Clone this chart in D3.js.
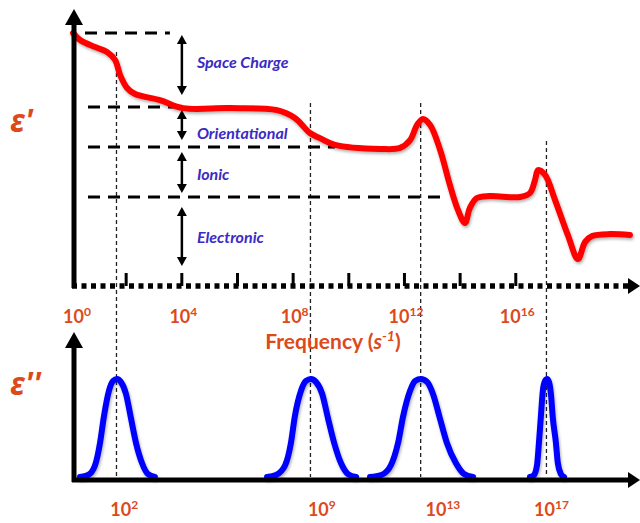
<!DOCTYPE html>
<html>
<head>
<meta charset="utf-8">
<script src="https://cdn.jsdelivr.net/npm/d3@7"></script>
<style>
  body { margin: 0; background: #fff; }
  svg { display: block; }
  .lbl { font-family: Lato, "Open Sans", sans-serif; font-weight: bold; }
</style>
</head>
<body>
<div id="chart"></div>
<script>
// log10 of frequency (x) and epsilon' (relative units)
var realLogF = [0.11, 0.36, 0.90, 1.33, 1.62, 1.80, 2.05, 2.34, 3.23, 4.06, 5.75, 7.44, 8.08, 8.62, 8.98, 9.52,
  11.14, 11.86, 12.22, 12.47, 12.68, 12.94, 13.30, 13.65, 13.94, 14.19, 14.37, 14.62, 15.09, 16.17, 16.53,
  16.71, 16.82, 17.07, 17.43, 17.89, 18.25, 18.51, 18.76, 19.40, 20.12];
var realEps = [10.0, 9.72, 9.44, 9.25, 8.93, 8.33, 7.82, 7.58, 7.34, 7.02, 7.02, 6.94, 6.63, 6.03, 5.83, 5.56,
  5.40, 5.44, 5.75, 6.35, 6.59, 6.35, 5.36, 3.97, 2.98, 2.46, 3.06, 3.45, 3.53, 3.49, 3.65,
  4.17, 4.56, 4.37, 3.37, 1.98, 1.03, 1.71, 1.94, 2.02, 1.98];

// epsilon'' loss peaks
var lossPeak1F = [0.36, 0.65, 0.90, 1.08, 1.22, 1.40, 1.55, 1.69, 1.83, 2.01, 2.19, 2.37, 2.59, 2.80, 3.05];
var lossPeak2F = [7.08, 7.40, 7.73, 7.94, 8.08, 8.30, 8.48, 8.66, 8.84, 9.06, 9.27, 9.49, 9.74, 9.99, 10.28];
var lossPeak3F = [10.78, 11.18, 11.53, 11.79, 11.97, 12.22, 12.40, 12.61, 12.83, 13.04, 13.29, 13.54, 13.87, 14.16, 14.48];
var lossPeak4F = [16.53, 16.67, 16.78, 16.85, 16.92, 16.99, 17.07, 17.14, 17.21, 17.28, 17.35, 17.46, 17.53, 17.64, 17.75];
var lossVal = [0, 0.02, 0.12, 0.35, 0.62, 0.88, 0.98, 1, 0.97, 0.85, 0.6, 0.35, 0.14, 0.03, 0];

// mechanism levels
var mechNames = ["Space Charge", "Orientational", "Ionic", "Electronic"];
var levelEps = [10.0, 7.06, 5.48, 3.49];
var levelEndF = [3.59, 4.06, 9.52, 13.58];
var arrowTop = [9.92, 6.94, 5.28, 3.10];
var arrowBottom = [7.54, 5.75, 3.65, 0.75];
var nameEps = [8.85, 6.03, 4.40, 1.87];
var arrowF = 4.02;

// relaxation frequencies
var peakF = [1.67, 8.64, 12.6, 17.12];
var peakLineTop = [9.25, 7.22, 7.22, 5.71];
var peakExp = ["2", "9", "13", "17"];
var peakLabelF = [1.95, 9.05, 13.4, 17.3];

var tickF = [2, 4, 6, 8, 10, 12, 14, 16];
var labelExp = [0, 4, 8, 12, 16];

var width = 640, height = 523;
var orange = "#dc4a1c", purple = "#3b2bc4";

var x = d3.scaleLinear().domain([0, 20]).range([70, 626.6]);
var yTop = d3.scaleLinear().domain([0, 10]).range([285, 33]);
var yBot = d3.scaleLinear().domain([0, 1]).range([477, 379]);

var svg = d3.select("#chart").append("svg")
  .attr("width", width)
  .attr("height", height);

var defs = svg.append("defs");
defs.append("filter").attr("id", "shadow")
  .attr("x", "-10%").attr("y", "-10%").attr("width", "120%").attr("height", "130%")
  .append("feDropShadow")
  .attr("dx", 1).attr("dy", 2).attr("stdDeviation", 1.5)
  .attr("flood-color", "#000").attr("flood-opacity", 0.3);

// vertical dotted lines at relaxation frequencies
svg.selectAll(".vline").data(peakF).enter().append("line")
  .attr("x1", d => x(d)).attr("x2", d => x(d))
  .attr("y1", (d, i) => yTop(peakLineTop[i])).attr("y2", yBot(0))
  .attr("stroke", "#222").attr("stroke-width", 1.3)
  .attr("stroke-dasharray", "4,3");

// dashed level lines
svg.selectAll(".level").data(levelEps).enter().append("line")
  .attr("x1", (d, i) => i == 0 ? 85 : 88).attr("x2", (d, i) => x(levelEndF[i]))
  .attr("y1", d => yTop(d)).attr("y2", d => yTop(d))
  .attr("stroke", "#000").attr("stroke-width", 3)
  .attr("stroke-dasharray", "12,8");

// double arrows
function dblArrow(g, xx, y1, y2) {
  g.append("line").attr("x1", xx).attr("x2", xx).attr("y1", y1 + 6).attr("y2", y2 - 6)
    .attr("stroke", "#000").attr("stroke-width", 2.5);
  g.append("path").attr("d", "M" + xx + "," + y1 + "l-5,9h10z").attr("fill", "#000");
  g.append("path").attr("d", "M" + xx + "," + y2 + "l-5,-9h10z").attr("fill", "#000");
}
var arrowsG = svg.append("g");
arrowTop.forEach(function (d, i) {
  dblArrow(arrowsG, x(arrowF), yTop(d), yTop(arrowBottom[i]));
});

svg.selectAll(".mech").data(mechNames).enter().append("text")
  .attr("class", "lbl")
  .attr("x", x(arrowF) + 15)
  .attr("y", (d, i) => yTop(nameEps[i]))
  .attr("dy", "0.35em")
  .attr("font-style", "italic")
  .attr("font-size", 16)
  .attr("fill", purple)
  .text(d => d);

// red epsilon' curve
var realLine = d3.line()
  .x(d => x(d[0])).y(d => yTop(d[1]))
  .curve(d3.curveCatmullRom.alpha(0.5));
svg.append("path")
  .datum(d3.zip(realLogF, realEps))
  .attr("d", realLine)
  .attr("fill", "none")
  .attr("stroke", "#ff0000")
  .attr("stroke-width", 6)
  .attr("stroke-linecap", "round")
  .attr("filter", "url(#shadow)");

// blue epsilon'' peaks
var lossLine = d3.line()
  .x(d => x(d[0])).y(d => yBot(d[1]))
  .curve(d3.curveMonotoneX);
[lossPeak1F, lossPeak2F, lossPeak3F, lossPeak4F].forEach(function (f) {
  svg.append("path")
    .datum(d3.zip(f, lossVal))
    .attr("d", lossLine)
    .attr("fill", "none")
    .attr("stroke", "#0000ff")
    .attr("stroke-width", 6)
    .attr("stroke-linecap", "round")
    .attr("filter", "url(#shadow)");
});

// top axes (dotted horizontal, solid vertical)
var axisTop = svg.append("g").attr("transform", "translate(0,286)")
  .call(d3.axisBottom(x).tickValues(tickF).tickSize(-13).tickFormat(""));
axisTop.select(".domain").remove();
axisTop.selectAll(".tick line").attr("stroke", "#000").attr("stroke-width", 3);

svg.append("line")
  .attr("x1", 72).attr("x2", 630).attr("y1", 286).attr("y2", 286)
  .attr("stroke", "#000").attr("stroke-width", 5.5)
  .attr("stroke-dasharray", "5,4.5");
svg.append("path").attr("d", "M640,286 l-12,-8 v16z").attr("fill", "#000");
svg.append("line")
  .attr("x1", 74).attr("x2", 74).attr("y1", 288).attr("y2", 22)
  .attr("stroke", "#000").attr("stroke-width", 5);
svg.append("path").attr("d", "M74,9 l-9,16 h18z").attr("fill", "#000");

// bottom axes
svg.append("line")
  .attr("x1", 72).attr("x2", 630).attr("y1", 480).attr("y2", 480)
  .attr("stroke", "#000").attr("stroke-width", 5);
svg.append("path").attr("d", "M640,480 l-12,-8 v16z").attr("fill", "#000");
svg.append("line")
  .attr("x1", 74).attr("x2", 74).attr("y1", 482).attr("y2", 345)
  .attr("stroke", "#000").attr("stroke-width", 5);
svg.append("path").attr("d", "M74,332 l-9,16 h18z").attr("fill", "#000");

// tick labels
function powLabel(xx, yy, exp) {
  var t = svg.append("text").attr("class", "lbl")
    .attr("x", xx).attr("y", yy)
    .attr("text-anchor", "middle")
    .attr("font-size", 18).attr("fill", orange);
  t.append("tspan").text("10");
  t.append("tspan").attr("font-size", 12).attr("dy", -7).text(exp);
}
labelExp.forEach(function (e) {
  powLabel(x(e) + (e == 0 ? 7 : 2), 323, e);
});
peakExp.forEach(function (e, i) {
  powLabel(x(peakLabelF[i]), 516, e);
});

var freq = svg.append("text").attr("class", "lbl")
  .attr("x", 333).attr("y", 349)
  .attr("text-anchor", "middle")
  .attr("font-size", 21).attr("fill", orange);
freq.append("tspan").text("Frequency (");
freq.append("tspan").attr("font-style", "italic").text("s");
freq.append("tspan").attr("font-style", "italic").attr("font-size", 14).attr("dy", -8).text("-1");
freq.append("tspan").attr("dy", 8).text(")");

// epsilon labels
svg.append("text")
  .attr("x", 10).attr("y", 132)
  .attr("font-family", "'Noto Sans', 'DejaVu Sans', sans-serif")
  .attr("font-weight", "bold").attr("font-style", "italic")
  .attr("font-size", 32).attr("fill", orange)
  .text("ε'");
svg.append("text")
  .attr("x", 10).attr("y", 395)
  .attr("font-family", "'Noto Sans', 'DejaVu Sans', sans-serif")
  .attr("font-weight", "bold").attr("font-style", "italic")
  .attr("font-size", 32).attr("fill", orange)
  .text("ε''");
</script>
</body>
</html>
